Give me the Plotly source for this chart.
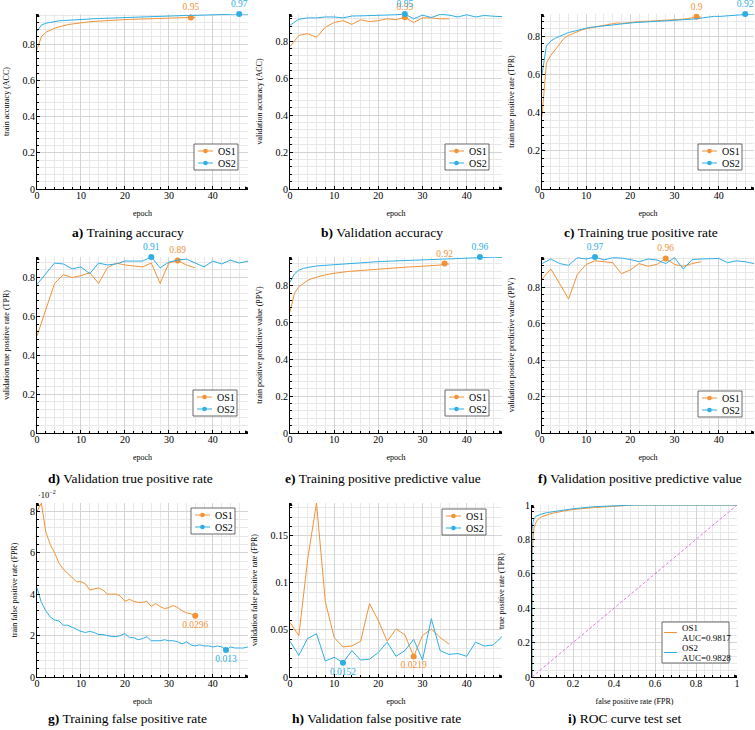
import numpy as np
import plotly.graph_objects as go

FONT = "Liberation Serif, Times New Roman, serif"
C1 = "#F39237"   # OS1 orange
C2 = "#2FAEE4"   # OS2 blue
DIAG = "#E04FE0"

SERIES_NAMES = ["OS1", "OS2"]

# ---------------- data ----------------
# training curves: one value per epoch
train_acc_os1 = [0.77, 0.84, 0.865, 0.877, 0.887, 0.895, 0.902, 0.907, 0.911, 0.915, 0.918, 0.921,
                 0.923, 0.925, 0.927, 0.929, 0.931, 0.932, 0.933, 0.934, 0.935, 0.936, 0.937, 0.938,
                 0.939, 0.94, 0.941, 0.942, 0.942, 0.943, 0.944, 0.945, 0.945, 0.946, 0.946, 0.947, 0.946]
train_acc_os2 = [0.87, 0.905, 0.915, 0.92, 0.925, 0.928, 0.93, 0.932, 0.934, 0.936, 0.937, 0.938,
                 0.939, 0.94, 0.941, 0.942, 0.943, 0.945, 0.946, 0.947, 0.948, 0.949, 0.95, 0.951,
                 0.951, 0.952, 0.953, 0.953, 0.954, 0.955, 0.955, 0.956, 0.957, 0.957, 0.958, 0.958,
                 0.959, 0.959, 0.96, 0.96, 0.961, 0.962, 0.962, 0.963, 0.963, 0.964, 0.966, 0.965, 0.965]

train_tpr_os1 = [0.38, 0.66, 0.70, 0.73, 0.765, 0.79, 0.805, 0.815, 0.825, 0.833, 0.84, 0.845,
                 0.85, 0.853, 0.857, 0.861, 0.866, 0.87, 0.868, 0.87, 0.873, 0.876, 0.878, 0.879,
                 0.879, 0.88, 0.881, 0.883, 0.884, 0.886, 0.888, 0.889, 0.89, 0.893, 0.897, 0.902, 0.9]
train_tpr_os2 = [0.60, 0.75, 0.775, 0.79, 0.80, 0.81, 0.82, 0.825, 0.832, 0.838, 0.843, 0.847,
                 0.85, 0.853, 0.856, 0.859, 0.862, 0.864, 0.866, 0.868, 0.87, 0.872, 0.874, 0.875,
                 0.877, 0.878, 0.879, 0.88, 0.881, 0.882, 0.883, 0.884, 0.886, 0.888, 0.89, 0.892,
                 0.896, 0.9, 0.903, 0.905, 0.904, 0.906, 0.908, 0.91, 0.912, 0.914, 0.917, 0.916, 0.916]

train_ppv_os1 = [0.66, 0.76, 0.795, 0.815, 0.83, 0.84, 0.848, 0.855, 0.86, 0.865, 0.869, 0.872,
                 0.875, 0.878, 0.88, 0.882, 0.884, 0.886, 0.888, 0.89, 0.892, 0.894, 0.895, 0.897,
                 0.898, 0.9, 0.901, 0.903, 0.904, 0.906, 0.907, 0.909, 0.91, 0.912, 0.913, 0.921, 0.918]
train_ppv_os2 = [0.82, 0.865, 0.885, 0.895, 0.90, 0.905, 0.908, 0.91, 0.912, 0.914, 0.916, 0.918,
                 0.92, 0.922, 0.924, 0.926, 0.927, 0.929, 0.93, 0.931, 0.932, 0.933, 0.934, 0.935,
                 0.936, 0.937, 0.938, 0.939, 0.94, 0.941, 0.942, 0.943, 0.944, 0.945, 0.946, 0.947,
                 0.948, 0.949, 0.95, 0.951, 0.952, 0.953, 0.954, 0.957, 0.955, 0.955, 0.956, 0.955, 0.955]

train_fpr_os1 = [0.080, 0.084, 0.070, 0.064, 0.060, 0.055, 0.052, 0.050, 0.048, 0.046, 0.046, 0.045,
                 0.042, 0.0425, 0.043, 0.042, 0.040, 0.040, 0.040, 0.039, 0.0365, 0.0375, 0.0365,
                 0.036, 0.036, 0.0365, 0.034, 0.0355, 0.034, 0.033, 0.0335, 0.0345, 0.0335, 0.032,
                 0.031, 0.0305, 0.0296]
train_fpr_os2 = [0.043, 0.036, 0.032, 0.029, 0.0275, 0.027, 0.025, 0.025, 0.024, 0.023, 0.022,
                 0.0215, 0.022, 0.0215, 0.0205, 0.0205, 0.020, 0.0195, 0.0195, 0.020, 0.021, 0.019,
                 0.019, 0.018, 0.0185, 0.0195, 0.0175, 0.0175, 0.0175, 0.018, 0.0175, 0.0175, 0.017,
                 0.016, 0.017, 0.0155, 0.015, 0.0155, 0.015, 0.015, 0.0145, 0.015, 0.0145, 0.013,
                 0.0145, 0.014, 0.014, 0.014, 0.0145]

# validation curves: one value every 2 epochs
val_acc_os1 = [0.77, 0.83, 0.84, 0.82, 0.875, 0.90, 0.91, 0.89, 0.915, 0.905, 0.91, 0.92, 0.915,
               0.928, 0.90, 0.925, 0.925, 0.92, 0.92]
val_acc_os2 = [0.885, 0.918, 0.925, 0.925, 0.93, 0.93, 0.925, 0.935, 0.936, 0.937, 0.938, 0.937,
               0.942, 0.946, 0.92, 0.94, 0.927, 0.944, 0.94, 0.93, 0.942, 0.93, 0.938, 0.934, 0.932]

val_tpr_os1 = [0.50, 0.63, 0.77, 0.815, 0.80, 0.81, 0.825, 0.77, 0.85, 0.875, 0.865, 0.86, 0.855,
               0.875, 0.77, 0.875, 0.888, 0.865, 0.85]
val_tpr_os2 = [0.765, 0.82, 0.875, 0.87, 0.845, 0.855, 0.82, 0.875, 0.865, 0.87, 0.885, 0.885,
               0.885, 0.906, 0.85, 0.88, 0.89, 0.895, 0.875, 0.855, 0.885, 0.87, 0.89, 0.875, 0.885]

val_ppv_os1 = [0.845, 0.90, 0.82, 0.735, 0.87, 0.925, 0.945, 0.94, 0.935, 0.875, 0.895, 0.93,
               0.915, 0.925, 0.958, 0.925, 0.915, 0.93, 0.94]
val_ppv_os2 = [0.93, 0.955, 0.93, 0.92, 0.962, 0.955, 0.966, 0.95, 0.962, 0.96, 0.952, 0.94,
               0.955, 0.95, 0.93, 0.962, 0.90, 0.952, 0.955, 0.955, 0.958, 0.935, 0.945, 0.94, 0.93]

val_fpr_os1 = [0.058, 0.044, 0.125, 0.185, 0.080, 0.042, 0.032, 0.033, 0.038, 0.078, 0.060, 0.038,
               0.051, 0.045, 0.0219, 0.044, 0.051, 0.042, 0.035]
val_fpr_os2 = [0.038, 0.023, 0.041, 0.046, 0.017, 0.021, 0.0152, 0.028, 0.018, 0.019, 0.026, 0.037,
               0.022, 0.028, 0.040, 0.018, 0.062, 0.028, 0.024, 0.025, 0.022, 0.037, 0.033, 0.034, 0.043]

# ROC curves on the test set
roc_fpr_os1 = [0, 0, 0.005, 0.01, 0.02, 0.03, 0.05, 0.08, 0.1, 0.15, 0.2, 0.3, 0.4, 0.5, 1.0]
roc_tpr_os1 = [0, 0.70, 0.80, 0.87, 0.90, 0.918, 0.933, 0.945, 0.952, 0.964, 0.974, 0.985, 0.992, 1.0, 1.0]
roc_fpr_os2 = [0, 0, 0.005, 0.01, 0.02, 0.04, 0.07, 0.1, 0.15, 0.2, 0.3, 0.4, 0.5, 1.0]
roc_tpr_os2 = [0, 0.85, 0.90, 0.92, 0.935, 0.945, 0.955, 0.96, 0.967, 0.978, 0.99, 0.995, 1.0, 1.0]
roc_auc = [0.9817, 0.9828]
chance_x = [0, 1]
chance_y = [0, 1]

X_TICKS = [0, 10, 20, 30, 40]
Y_TICKS = [0, 0.2, 0.4, 0.6, 0.8]
FPR_TICKS = [0, 0.02, 0.04, 0.06, 0.08]
FPR_TICKTEXT = ["0", "2", "4", "6", "8"]
VFPR_TICKS = [0, 0.05, 0.1, 0.15]
ROC_TICKS = [0, 0.2, 0.4, 0.6, 0.8, 1]
ROC_TICKTEXT = ["0", "0.2", "0.4", "0.6", "0.8", "1"]

# ---------------- layout geometry ----------------
W, H = 755, 730


def px(v):
    return v / W


def py(v):
    return 1 - v / H


COLS = [(37, 248), (290, 502), (542, 754)]
ROWS = [(14, 189), (257, 433), (503, 677)]

panels = [
    dict(os1=train_acc_os1, os2=train_acc_os2, step=1, mode="max", yt="train accuracy (ACC)",
         cap="<b>a)</b> Training accuracy", capx=128, leg=(238, 144)),
    dict(os1=val_acc_os1, os2=val_acc_os2, step=2, mode="max", yt="validation accuracy (ACC)",
         cap="<b>b)</b> Validation accuracy", capx=382, leg=(489, 144)),
    dict(os1=train_tpr_os1, os2=train_tpr_os2, step=1, mode="max", yt="train true positive rate (TPR)",
         cap="<b>c)</b> Training true positive rate", capx=641, leg=(742, 144)),
    dict(os1=val_tpr_os1, os2=val_tpr_os2, step=2, mode="max", yt="validation true positive rate (TPR)",
         cap="<b>d)</b> Validation true positive rate", capx=130, leg=(237, 390)),
    dict(os1=train_ppv_os1, os2=train_ppv_os2, step=1, mode="max", yt="train positive predictive value (PPV)",
         cap="<b>e)</b> Training positive predictive value", capx=383, leg=(489, 390)),
    dict(os1=val_ppv_os1, os2=val_ppv_os2, step=2, mode="max", yt="validation positive predictive value (PPV)",
         cap="<b>f)</b> Validation positive predictive value", capx=640, leg=(742, 391)),
    dict(os1=train_fpr_os1, os2=train_fpr_os2, step=1, mode="min", yt="train false positive rate (FPR)",
         cap="<b>g)</b> Training false positive rate", capx=127, leg=(235, 508)),
    dict(os1=val_fpr_os1, os2=val_fpr_os2, step=2, mode="min", yt="validation false positive rate (FPR)",
         cap="<b>h)</b> Validation false positive rate", capx=376, leg=(486, 509)),
]

CAP_Y = [232, 478, 718]


def fmt(v, mode):
    s = f"{v:.2f}" if mode == "max" else f"{v:.4f}"
    return s.rstrip("0").rstrip(".")


fig = go.Figure()
annotations = []
shapes = []
layout = dict(width=W, height=H, margin=dict(l=0, r=0, t=0, b=0),
              paper_bgcolor="white", plot_bgcolor="white",
              font=dict(family=FONT, size=10, color="black"), showlegend=False)

GRID = "#d4d4d4"
MINOR_GRID = "#e8e8e8"


def axis_common(rng, domain, title, tickvals, minor_dtick, ticktext=None, anchor=None, isx=True):
    d = dict(domain=domain, range=rng, showline=True, linecolor="black", linewidth=0.8,
             zeroline=False, showgrid=True, gridcolor=GRID, gridwidth=0.6,
             ticks="inside", ticklen=3, tickcolor="black", tickwidth=0.6,
             tickvals=tickvals, tickfont=dict(family=FONT, size=10),
             minor=dict(dtick=minor_dtick, showgrid=True, gridcolor=MINOR_GRID, gridwidth=0.5,
                        ticks="inside", ticklen=2, tickcolor="black", tickwidth=0.5),
             title=dict(text=title, font=dict(family=FONT, size=8), standoff=10 if isx else 11),
             anchor=anchor, fixedrange=True, automargin=False,
             ticklabelstandoff=-3 if isx else -1)
    if ticktext is not None:
        d["ticktext"] = ticktext
    return d


def add_arrows(xr, yr, xmax, ymax):
    shapes.append(dict(type="path", xref=xr, yref=yr, xsizemode="pixel", ysizemode="pixel",
                       xanchor=xmax, yanchor=0, path="M 4,0 L -3,2.5 L -3,-2.5 Z",
                       fillcolor="black", line=dict(width=0), layer="above"))
    shapes.append(dict(type="path", xref=xr, yref=yr, xsizemode="pixel", ysizemode="pixel",
                       xanchor=0, yanchor=ymax, path="M 0,4 L -2.5,-3 L 2.5,-3 Z",
                       fillcolor="black", line=dict(width=0), layer="above"))


def add_legend_box(right, top, entries, wbox, hbox, line_len=15, with_marker=True, fsize=10, pad=4):
    left = right - wbox
    shapes.append(dict(type="rect", xref="paper", yref="paper",
                       x0=px(left), x1=px(right), y0=py(top + hbox), y1=py(top),
                       line=dict(color="#444", width=0.8), fillcolor="white", layer="above"))
    for (label, col, yc, text_lines) in entries:
        x0 = left + pad
        x1 = x0 + line_len
        shapes.append(dict(type="line", xref="paper", yref="paper",
                           x0=px(x0), x1=px(x1), y0=py(yc), y1=py(yc),
                           line=dict(color=col, width=1), layer="above"))
        if with_marker:
            cx = (x0 + x1) / 2
            r = 2.3
            shapes.append(dict(type="circle", xref="paper", yref="paper",
                               x0=px(cx - r), x1=px(cx + r), y0=py(yc + r), y1=py(yc - r),
                               fillcolor=col, line=dict(width=0), layer="above"))
        for (t, ty) in text_lines:
            annotations.append(dict(x=px(x1 + 3), y=py(ty), xref="paper", yref="paper",
                                    text=t, showarrow=False, xanchor="left", yanchor="middle",
                                    font=dict(family=FONT, size=fsize, color="black")))


for i, p in enumerate(panels):
    n = i + 1
    r, c = divmod(i, 3)
    xs = "x" if n == 1 else f"x{n}"
    ys = "y" if n == 1 else f"y{n}"
    series = [p["os1"], p["os2"]]
    colors = [C1, C2]
    ymax = max(max(s) for s in series)
    for k, (vals, col) in enumerate(zip(series, colors)):
        ep = [j * p["step"] for j in range(len(vals))]
        fig.add_trace(go.Scatter(x=ep, y=vals, mode="lines", line=dict(color=col, width=1),
                                 name=SERIES_NAMES[k], xaxis=xs, yaxis=ys, hoverinfo="skip"))
        j = int(np.argmax(vals)) if p["mode"] == "max" else int(np.argmin(vals))
        fig.add_trace(go.Scatter(x=[ep[j]], y=[vals[j]], mode="markers+text",
                                 marker=dict(color=col, size=6),
                                 text=[fmt(vals[j], p["mode"])],
                                 textposition="top center" if p["mode"] == "max" else "bottom center",
                                 textfont=dict(family=FONT, size=9.5, color=col),
                                 cliponaxis=False, xaxis=xs, yaxis=ys, hoverinfo="skip"))
    xdom = [px(COLS[c][0]), px(COLS[c][1])]
    ydom = [py(ROWS[r][1]), py(ROWS[r][0])]
    if p["mode"] == "min" and p["step"] == 1:
        ya = axis_common([0, ymax], ydom, p["yt"], FPR_TICKS, 0.004, FPR_TICKTEXT, anchor=xs, isx=False)
    elif p["mode"] == "min":
        ya = axis_common([0, ymax], ydom, p["yt"], VFPR_TICKS, 0.01, anchor=xs, isx=False)
    else:
        ya = axis_common([0, ymax], ydom, p["yt"], Y_TICKS, 0.04, anchor=xs, isx=False)
    xa = axis_common([0, 48], xdom, "epoch", X_TICKS, 2, anchor=ys)
    layout["xaxis" if n == 1 else f"xaxis{n}"] = xa
    layout["yaxis" if n == 1 else f"yaxis{n}"] = ya
    lx, ly = p["leg"]
    add_legend_box(lx, ly, [(SERIES_NAMES[0], C1, ly + 7, [(SERIES_NAMES[0], ly + 7)]),
                            (SERIES_NAMES[1], C2, ly + 19, [(SERIES_NAMES[1], ly + 19)])],
                   wbox=44, hbox=26)
    add_arrows(xs, ys, 48, ymax)
    annotations.append(dict(x=px(p["capx"]), y=py(CAP_Y[r]), xref="paper", yref="paper",
                            text=p["cap"], showarrow=False,
                            font=dict(family=FONT, size=13.5), xanchor="center",
                            yanchor="middle"))

# ---------------- panel i: ROC ----------------
xs, ys = "x9", "y9"
roc = [(roc_fpr_os1, roc_tpr_os1, C1), (roc_fpr_os2, roc_tpr_os2, C2)]
for k, (fx, ty, col) in enumerate(roc):
    fig.add_trace(go.Scatter(x=fx, y=ty, mode="lines", line=dict(color=col, width=1),
                             name=f"{SERIES_NAMES[k]} AUC={roc_auc[k]}",
                             xaxis=xs, yaxis=ys, hoverinfo="skip"))
fig.add_trace(go.Scatter(x=chance_x, y=chance_y, mode="lines",
                         line=dict(color=DIAG, width=0.8, dash="3px,2px"),
                         xaxis=xs, yaxis=ys, hoverinfo="skip"))
layout["xaxis9"] = axis_common([0, 1], [px(532), px(737)], "false positive rate (FPR)",
                               ROC_TICKS, 0.04, ROC_TICKTEXT, anchor=ys)
layout["yaxis9"] = axis_common([0, 1], [py(677), py(505)], "true positive rate (TPR)",
                               ROC_TICKS, 0.04, ROC_TICKTEXT, anchor=xs, isx=False)
add_legend_box(729, 622,
               [(SERIES_NAMES[0], C1, 632.5, [(SERIES_NAMES[0], 627.5), (f"AUC={roc_auc[0]}", 637.5)]),
                (SERIES_NAMES[1], C2, 652.5, [(SERIES_NAMES[1], 647.5), (f"AUC={roc_auc[1]}", 657.5)])],
               wbox=67, hbox=41, line_len=13, with_marker=False, fsize=9, pad=2)
add_arrows(xs, ys, 1, 1)
annotations.append(dict(x=px(624), y=py(718), xref="paper", yref="paper",
                        text="<b>i)</b> ROC curve test set", showarrow=False,
                        font=dict(family=FONT, size=13.5), xanchor="center", yanchor="middle"))
# exponent label of panel g
annotations.append(dict(x=px(36), y=py(494), xref="paper", yref="paper",
                        text="·10<sup>−2</sup>", showarrow=False, xanchor="left", yanchor="middle",
                        font=dict(family=FONT, size=8.5)))

layout["annotations"] = annotations
layout["shapes"] = shapes
fig.update_layout(**layout)
fig.write_html("out.html", config={"displayModeBar": False},
               post_script="document.body.style.margin='0';document.body.style.overflow='hidden';")
